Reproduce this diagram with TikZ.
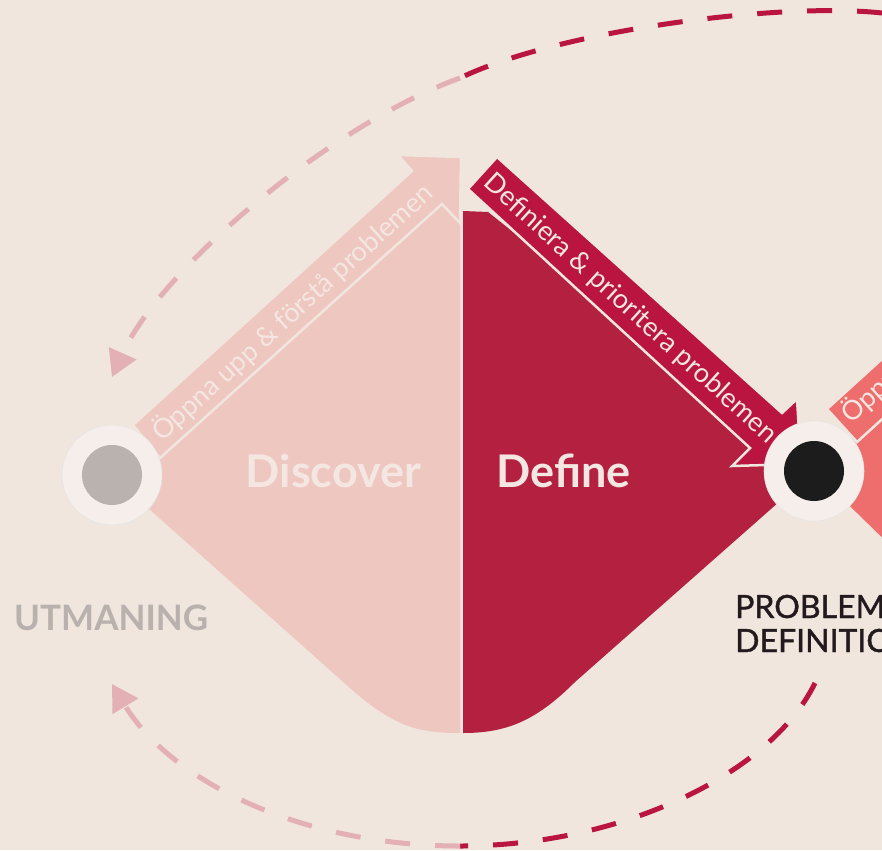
\documentclass[tikz,border=0pt]{standalone}
\usepackage{fontspec}
\setmainfont{Lato}
\newfontfamily\medfont[FakeBold=1.3]{Lato}
\usetikzlibrary{%
  arrows.meta%
}
\definecolor{bg}{HTML}{F0E6DE}
\definecolor{discpink}{HTML}{EFC7C1}
\definecolor{defred}{HTML}{B42040}
\definecolor{bandred}{HTML}{B91540}
\definecolor{devsalmon}{HTML}{EE6E6E}
\definecolor{rim}{HTML}{F6EEEA}
\definecolor{dashpink}{HTML}{E2B0B5}
\definecolor{greydot}{HTML}{BAB2AE}
\definecolor{labelgrey}{HTML}{B9B1AD}
\definecolor{ink}{HTML}{231A1E}
\definecolor{pale}{HTML}{F4E6E0}
\tikzset{>={Triangle[length=26pt,width=29pt]}}
\tikzset{
  band/.style={draw=bg,line width=2.5pt,line join=miter},
  loopline/.style={line width=5pt,dash pattern=on 25pt off 25pt},
  rimdot/.style={circle,fill=rim,draw=black!10,line width=0.6pt,minimum size=100pt,inner sep=0pt},
  coredot/.style={circle,minimum size=60pt,inner sep=0pt},
  phase/.style={font=\fontsize{45}{50}\selectfont\bfseries,text=pale,anchor=base,inner sep=0pt},
  bandtext/.style={font=\fontsize{27}{32}\selectfont,text=pale,inner sep=0pt}
}

\begin{document}
\begin{tikzpicture}[x=1pt,y=-1pt]
        \useasboundingbox (0,0) rectangle (882,850);
        \clip (0,0) rectangle (882,850);
        \fill[bg] (0,0) rectangle (882,850);
        % the two halves of the diamond
        \fill[discpink] (112,476) -- (442,204) -- (460,223) -- (460,733)
        .. controls (420,733) and (395,728) .. (350,688) -- cycle;
        \fill[defred] (463,211) -- (488,212) -- (814,471) -- (575,682)
        .. controls (535,722) and (505,733) .. (463,733) -- cycle;
        \fill[devsalmon] (814,471) -- (900,390) -- (900,555) -- cycle;
        % loops
        \coordinate (topend) at (882,13);
        \coordinate (topmid) at (460,78);
        \coordinate (toptip) at (112,377);
        \coordinate (botstart) at (815,683);
        \coordinate (botmid) at (460,846);
        \coordinate (bottip) at (112,684);
        \draw[loopline,bandred] (topend) .. controls (780,2) and (560,30) .. (topmid);
        \draw[loopline,dashpink,->] (topmid) .. controls (330,125) and (160,270) .. (toptip);
        \draw[loopline,bandred] (botstart) .. controls (770,775) and (620,846) .. (botmid);
        \draw[loopline,dashpink,->] (botmid) .. controls (300,846) and (170,780) .. (bottip);
        % arrows along the edges
        \draw[band,fill=discpink] (133,425) -- (412,171) -- (398,155) -- (461,157)
        -- (460,223) -- (442,204) -- (160,458) -- cycle;
        \draw[band,fill=bandred] (468,189) -- (497,157) -- (782,413) -- (797,399)
        -- (801,464) -- (732,466) -- (750,448) -- cycle;
        \draw[band,fill=devsalmon] (827,409) -- (916,328) -- (946,361) -- (857,442) -- cycle;
        \node[bandtext,rotate=42.2] (opentext) at (292,312) {Öppna upp \& förstå problemen};
        \node[bandtext,rotate=-42.25] (deftext) at (630,309) {Definiera \& prioritera problemen};
        \node[bandtext,rotate=42.2,anchor=base west] (devtext) at (851,425) {Öppna upp};
        % milestones
        \node[rimdot] (start) at (112,475) {};
        \node[coredot,fill=greydot] (startcore) at (start) {};
        \node[rimdot] (probdef) at (814,471) {};
        \node[coredot,fill=black!89] (probcore) at (probdef) {};
        \node[phase] (discover) at (333.5,487) {Discover};
        \node[phase] (define) at (563.5,487) {Define};
        \node[font=\fontsize{35}{40}\selectfont\bfseries,text=labelgrey,anchor=base west,inner sep=0pt]
        (utm) at (14,630) {UTMANING};
        \node[font=\medfont\fontsize{32}{36}\selectfont,text=ink,anchor=base west,inner sep=0pt]
        (prob) at (735,618) {PROBLEM};
        \node[font=\medfont\fontsize{32}{36}\selectfont,text=ink,anchor=base west,inner sep=0pt]
        (defi) at (735,652) {DEFINITION};
      \end{tikzpicture}
\end{document}
